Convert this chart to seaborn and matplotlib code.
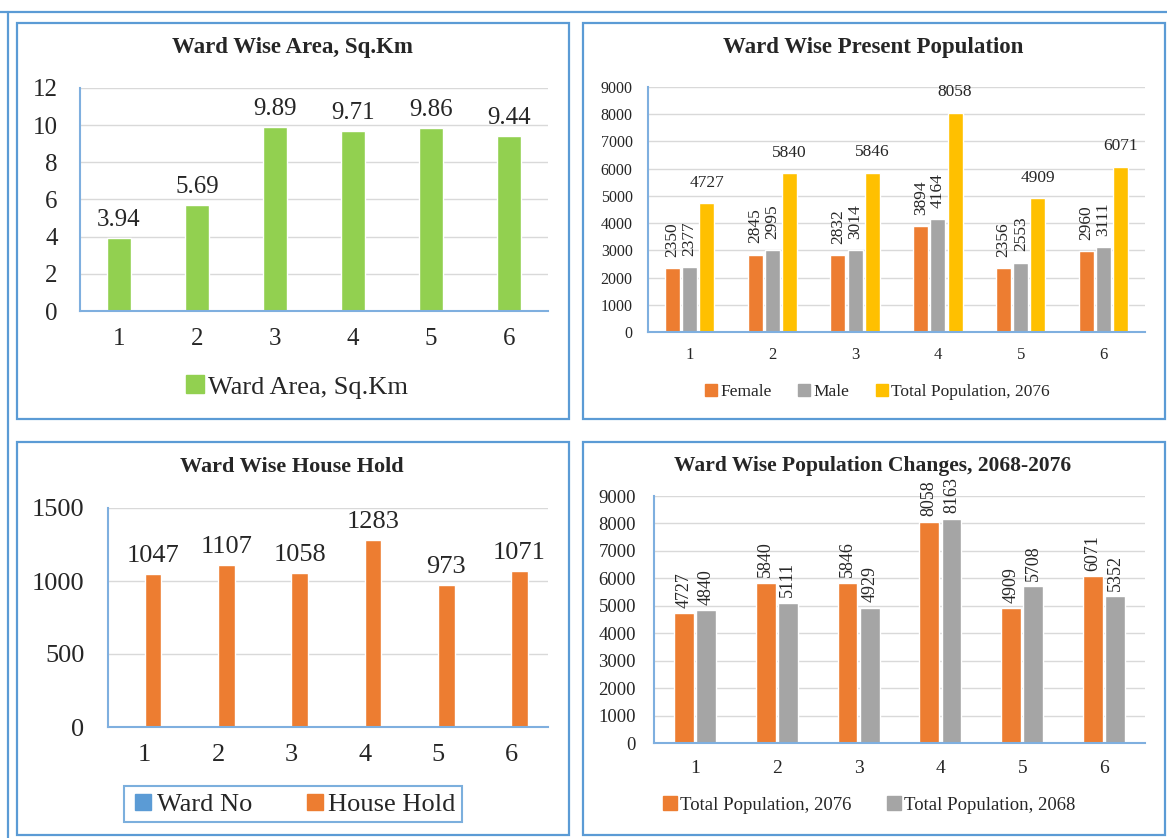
import matplotlib
matplotlib.use("Agg")
import matplotlib.pyplot as plt
import seaborn as sns
import pandas as pd
from matplotlib.patches import Rectangle
from matplotlib.lines import Line2D

# ---------------- data ----------------
wards = ["1", "2", "3", "4", "5", "6"]
ward_area = [3.94, 5.69, 9.89, 9.71, 9.86, 9.44]
female = [2350, 2845, 2832, 3894, 2356, 2960]
male = [2377, 2995, 3014, 4164, 2553, 3111]
total_2076 = [4727, 5840, 5846, 8058, 4909, 6071]
total_2068 = [4840, 5111, 4929, 8163, 5708, 5352]
ward_no = [1, 2, 3, 4, 5, 6]
house_hold = [1047, 1107, 1058, 1283, 973, 1071]

GREEN = "#92D050"
ORANGE = "#ED7D31"
GRAY = "#A5A5A5"
YELLOW = "#FFC000"
BLUE = "#5B9BD5"
SPINE = "#7FAFDF"
GRID = "#D9D9D9"

sns.set_theme(style="white")
plt.rcParams["font.family"] = ["Liberation Serif", "DejaVu Serif"]

W, H = 1167, 838
fig = plt.figure(figsize=(W / 100, H / 100), dpi=100)


def axes_px(x0, y0, x1, y1):
    return fig.add_axes([x0 / W, 1 - y1 / H, (x1 - x0) / W, (y1 - y0) / H])


def frame_px(x0, y0, x1, y1):
    fig.add_artist(Rectangle((x0 / W, 1 - y1 / H), (x1 - x0) / W, (y1 - y0) / H,
                             transform=fig.transFigure, fill=False,
                             edgecolor=BLUE, lw=1.6))


def style_ax(ax, ymax, step, xfs, yfs, xpad, ypad):
    ax.set_ylim(0, ymax)
    ax.set_yticks(range(0, ymax + 1, step))
    ax.yaxis.grid(True, color=GRID, lw=1)
    ax.set_axisbelow(True)
    for s in ["top", "right"]:
        ax.spines[s].set_visible(False)
    ax.spines["left"].set_color(SPINE)
    ax.spines["bottom"].set_color(SPINE)
    ax.spines["left"].set_linewidth(1.5)
    ax.spines["bottom"].set_linewidth(1.5)
    ax.tick_params(axis="x", length=0, labelsize=xfs, pad=xpad)
    ax.tick_params(axis="y", length=0, labelsize=yfs, pad=ypad)
    ax.set_xlabel("")
    ax.set_ylabel("")


def legend_px(labels, colors, cx, cy, fs, ms, frame=False, colsp=1.0):
    handles = [Line2D([0], [0], marker="s", linestyle="none", markersize=ms,
                      markerfacecolor=c, markeredgecolor=c) for c in colors]
    leg = fig.legend(handles, labels, loc="center", bbox_to_anchor=(cx / W, 1 - cy / H),
                     ncol=len(labels), frameon=frame, fontsize=fs, handletextpad=0.0,
                     handlelength=1.0, columnspacing=colsp, borderpad=0.25, fancybox=False)
    if frame:
        leg.get_frame().set_edgecolor(BLUE)
        leg.get_frame().set_linewidth(1.5)
    return leg


# outer frame lines
fig.add_artist(Line2D([0, 1], [1 - 12 / H, 1 - 12 / H], transform=fig.transFigure, color=BLUE, lw=1.6))
fig.add_artist(Line2D([8 / W, 8 / W], [0, 1 - 12 / H], transform=fig.transFigure, color=BLUE, lw=1.6))

# panel frames
frame_px(17, 23, 569, 419)
frame_px(583, 23, 1165, 419)
frame_px(17, 442, 569, 835)
frame_px(583, 442, 1165, 835)

# ---------------- panel 1: area ----------------
ax1 = axes_px(80, 88, 548, 311)
df1 = pd.DataFrame({"Ward": wards, "Area": ward_area})
sns.barplot(data=df1, x="Ward", y="Area", color=GREEN, width=0.31, saturation=1, ax=ax1)
style_ax(ax1, 12, 2, 18, 18, 12, 16)
ax1.bar_label(ax1.containers[0], labels=[f"{v:.2f}" for v in ward_area], padding=5, fontsize=18)
fig.text(292 / W, 1 - 47 / H, "Ward Wise Area, Sq.Km", ha="center", va="center",
         fontsize=16.5, fontweight="bold")
legend_px(["Ward Area, Sq.Km"], [GREEN], 295, 387, 19, 13)

# ---------------- panel 2: present population ----------------
ax2 = axes_px(648, 87, 1145, 332)
df2 = pd.DataFrame({
    "Ward": wards * 3,
    "Series": ["Female"] * 6 + ["Male"] * 6 + ["Total Population, 2076"] * 6,
    "Value": female + male + total_2076,
})
sns.barplot(data=df2, x="Ward", y="Value", hue="Series",
            palette=[ORANGE, GRAY, YELLOW], width=0.62, gap=0.12, saturation=1,
            legend=False, ax=ax2)
style_ax(ax2, 9000, 1000, 12, 11.5, 11, 11)
ax2.bar_label(ax2.containers[0], labels=[str(v) for v in female], rotation=90, padding=8, fontsize=12.5)
ax2.bar_label(ax2.containers[1], labels=[str(v) for v in male], rotation=90, padding=8, fontsize=12.5)
ax2.bar_label(ax2.containers[2], labels=[str(v) for v in total_2076], padding=9, fontsize=12.5)
fig.text(873 / W, 1 - 48 / H, "Ward Wise Present Population", ha="center", va="center",
         fontsize=16.5, fontweight="bold")
legend_px(["Female", "Male", "Total Population, 2076"], [ORANGE, GRAY, YELLOW], 876, 392, 12.5, 9,
          colsp=1.4)

# ---------------- panel 3: household ----------------
ax3 = axes_px(108, 508, 548, 727)
df3 = pd.DataFrame({
    "Ward": wards * 2,
    "Series": ["Ward No"] * 6 + ["House Hold"] * 6,
    "Value": ward_no + house_hold,
})
sns.barplot(data=df3, x="Ward", y="Value", hue="Series",
            palette=[BLUE, ORANGE], width=0.45, gap=0.0, saturation=1,
            legend=False, ax=ax3)
style_ax(ax3, 1500, 500, 19, 19, 12, 17)
ax3.bar_label(ax3.containers[1], labels=[str(v) for v in house_hold], padding=5, fontsize=19)
fig.text(292 / W, 1 - 467 / H, "Ward Wise House Hold", ha="center", va="center",
         fontsize=16, fontweight="bold")
legend_px(["Ward No", "House Hold"], [BLUE, ORANGE], 293, 804, 19, 12, frame=True, colsp=1.9)

# ---------------- panel 4: population changes ----------------
ax4 = axes_px(654, 496, 1145, 743)
df4 = pd.DataFrame({
    "Ward": wards * 2,
    "Series": ["Total Population, 2076"] * 6 + ["Total Population, 2068"] * 6,
    "Value": total_2076 + total_2068,
})
sns.barplot(data=df4, x="Ward", y="Value", hue="Series",
            palette=[ORANGE, GRAY], width=0.54, gap=0.1, saturation=1,
            legend=False, ax=ax4)
style_ax(ax4, 9000, 1000, 14, 13.5, 12, 13)
ax4.bar_label(ax4.containers[0], labels=[str(v) for v in total_2076], rotation=90, padding=4, fontsize=13)
ax4.bar_label(ax4.containers[1], labels=[str(v) for v in total_2068], rotation=90, padding=4, fontsize=13)
fig.text(873 / W, 1 - 466 / H, "Ward Wise Population Changes, 2068-2076", ha="center", va="center",
         fontsize=15.5, fontweight="bold")
legend_px(["Total Population, 2076", "Total Population, 2068"], [ORANGE, GRAY], 868, 805, 13.5, 10,
          colsp=1.8)

fig.savefig("out.png", dpi=100, facecolor="white")
